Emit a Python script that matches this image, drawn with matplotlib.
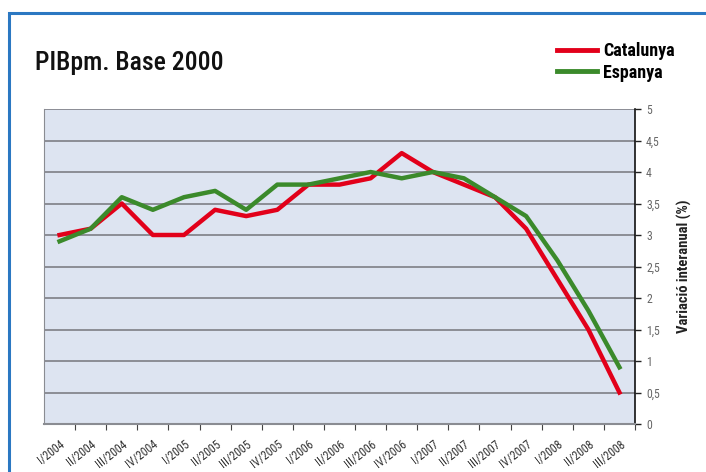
import matplotlib
matplotlib.use("Agg")
import matplotlib.pyplot as plt
from matplotlib.patches import Rectangle
from matplotlib.lines import Line2D

quarters = ["I/2004", "II/2004", "III/2004", "IV/2004",
            "I/2005", "II/2005", "III/2005", "IV/2005",
            "I/2006", "II/2006", "III/2006", "IV/2006",
            "I/2007", "II/2007", "III/2007", "IV/2007",
            "I/2008", "II/2008", "III/2008"]
catalunya = [3.0, 3.1, 3.5, 3.0, 3.0, 3.4, 3.3, 3.4, 3.8, 3.8, 3.9, 4.3,
             4.0, 3.8, 3.6, 3.1, 2.3, 1.5, 0.5]
espanya = [2.9, 3.1, 3.6, 3.4, 3.6, 3.7, 3.4, 3.8, 3.8, 3.9, 4.0, 3.9,
           4.0, 3.9, 3.6, 3.3, 2.6, 1.8, 0.9]
y_ticks = [0, 0.5, 1, 1.5, 2, 2.5, 3, 3.5, 4, 4.5, 5]
y_labels = ["0", "0,5", "1", "1,5", "2", "2,5", "3", "3,5", "4", "4,5", "5"]

red = "#e2001a"
green = "#3b8a2b"
cond = ["Roboto Condensed", "DejaVu Sans"]

fig = plt.figure(figsize=(7.06, 4.72), dpi=100)
fig.patches.append(Rectangle((9 / 706, -0.1), 1.2, 1 - 13 / 472 + 0.1,
                             transform=fig.transFigure, fill=False,
                             edgecolor="#2b78c2", linewidth=2.2))

ax = fig.add_axes([44 / 706, 1 - 424 / 472, 591 / 706, 315 / 472])
ax.set_facecolor("#dde4f1")
x = range(len(quarters))
ax.plot(x, catalunya, color=red, linewidth=3.2, zorder=3)
ax.plot(x, espanya, color=green, linewidth=3.2, zorder=4)

ax.set_xlim(-0.5, len(quarters) - 0.5)
ax.set_ylim(0, 5)
for yv in y_ticks:
    ax.axhline(yv, color="#7d7f86", linewidth=1.2, zorder=1)

ax.yaxis.tick_right()
ax.set_yticks(y_ticks)
ax.set_yticklabels(y_labels, color="#666666", fontsize=8.5, family=cond)
ax.tick_params(axis="y", direction="out", length=4, width=1, color="#222222", pad=4)

ax.set_xticks([i - 0.5 for i in range(1, len(quarters) + 1)])
ax.set_xticklabels([])
ax.set_xticks(list(x), minor=True)
ax.set_xticklabels(quarters, minor=True, rotation=38, ha="right", va="top",
                   rotation_mode="anchor", fontsize=8.5, color="#333333",
                   family=cond)
ax.tick_params(axis="x", which="major", direction="out", length=4, color="#444444")
ax.tick_params(axis="x", which="minor", length=0, pad=10)

ax.spines["top"].set_visible(False)
ax.spines["left"].set_color("#8a8c92")
ax.spines["bottom"].set_color("#8a8c92")
ax.spines["bottom"].set_linewidth(1.5)
ax.spines["right"].set_color("#111111")
ax.spines["right"].set_linewidth(1.2)

ax.yaxis.set_label_position("right")
ax.set_ylabel("Variació interanual (%)", fontsize=10.5, fontweight="bold",
              family=cond, labelpad=12, color="#222222")

fig.text(35 / 706, 1 - 70 / 472, "PIBpm. Base 2000", fontsize=18.5,
         family=cond, fontweight="medium", va="baseline", ha="left", color="#111111")

handles = [Line2D([], [], color=red, linewidth=3.5), Line2D([], [], color=green, linewidth=3.5)]
fig.legend(handles, ["Catalunya", "Espanya"], loc="upper left",
           bbox_to_anchor=(548 / 706, 1 - 33 / 472), frameon=False,
           prop={"family": cond, "weight": "semibold", "size": 13},
           handlelength=2.2, handletextpad=0.35, labelspacing=0.2, borderpad=0)

fig.savefig("out.png", dpi=100)
